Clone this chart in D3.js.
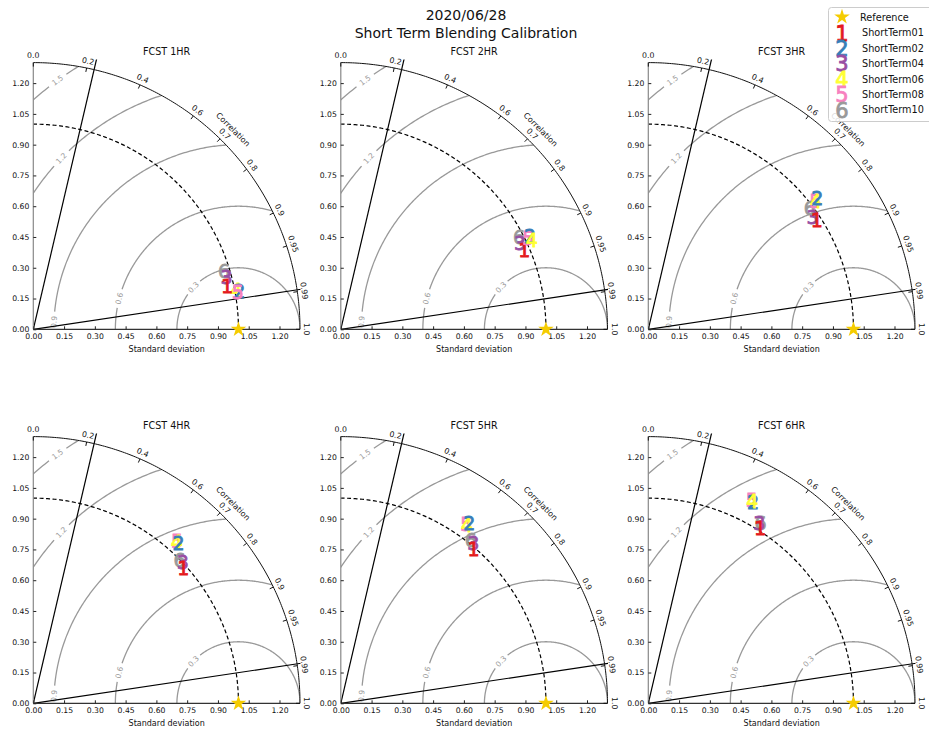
<!DOCTYPE html>
<html><head><meta charset="utf-8">
<script src="https://cdn.jsdelivr.net/npm/d3@7"></script>
<style>body{margin:0;background:#fff} text{font-family:"DejaVu Sans",sans-serif}</style>
</head><body><svg id="chart" width="929" height="733"></svg>
<script>
// ---------------- data ----------------
const figTitle = ["2020/06/28", "Short Term Blending Calibration"];
const panelTitles = ["FCST 1HR", "FCST 2HR", "FCST 3HR", "FCST 4HR", "FCST 5HR", "FCST 6HR"];
const seriesNames = ["ShortTerm01", "ShortTerm02", "ShortTerm04", "ShortTerm06", "ShortTerm08", "ShortTerm10"];
const seriesMarkers = ["1", "2", "3", "4", "5", "6"];
const stdTicks = [0, 0.15, 0.30, 0.45, 0.60, 0.75, 0.90, 1.05, 1.20];
const corrTicks = [0, 0.2, 0.4, 0.6, 0.7, 0.8, 0.9, 0.95, 0.99, 1.0];
const rmsLevels = [0.3, 0.6, 0.9, 1.2, 1.5];
const refStd = 1.0;
const stdMax = 1.3;
// per-series values, one entry per panel (FCST 1HR..6HR)
const std01  = [0.968, 0.973, 0.979, 0.984, 0.991, 1.012];
const corr01 = [0.976, 0.919, 0.839, 0.743, 0.653, 0.538];
const std02  = [1.022, 1.027, 1.043, 1.053, 1.079, 1.105];
const corr02 = [0.983, 0.898, 0.790, 0.672, 0.581, 0.462];
const std04  = [0.976, 0.969, 0.971, 1.003, 1.013, 1.031];
const corr04 = [0.965, 0.902, 0.825, 0.726, 0.638, 0.525];
const std06  = [1.008, 1.028, 1.028, 1.053, 1.064, 1.106];
const corr06 = [0.982, 0.906, 0.796, 0.664, 0.578, 0.458];
const std08  = [1.013, 1.016, 1.027, 1.056, 1.068, 1.110];
const corr08 = [0.984, 0.899, 0.793, 0.663, 0.573, 0.455];
const std10  = [0.971, 0.979, 0.984, 0.998, 1.018, 1.036];
const corr10 = [0.957, 0.888, 0.800, 0.714, 0.623, 0.528];
// black reference lines (correlation values of the two straight lines)
const guideCorr = [0.228, 0.989];

const seriesStd = [std01, std02, std04, std06, std08, std10];
const seriesCorr = [corr01, corr02, corr04, corr06, corr08, corr10];

// ---------------- styles / layout ----------------
const seriesColors = ["#e41a1c", "#377eb8", "#984ea3", "#ffff33", "#f781bf", "#999999"];
// stacking order of markers per panel (bottom -> top), series indices
const drawOrder = [
  [5, 3, 1, 4, 2, 0],
  [5, 2, 0, 4, 1, 3],
  [5, 4, 3, 1, 2, 0],
  [5, 4, 3, 1, 2, 0],
  [5, 4, 3, 1, 2, 0],
  [5, 2, 0, 4, 1, 3]
];
const rmsLabelAngles = [137, 165.5, 177.7, 136, 126];
const R = 266.7;
const col0 = 33.3, colStep = 307.5, row0 = 329.3, rowStep = 374;

const svg = d3.select("#chart");
svg.append("rect").attr("width", 929).attr("height", 733).attr("fill", "#fff");
const r = d3.scaleLinear().domain([0, stdMax]).range([0, R]);
const yS = d3.scaleLinear().domain([0, stdMax]).range([0, -R]);

const defs = svg.append("defs");
defs.append("clipPath").attr("id", "wedge").append("path")
  .attr("d", `M0,0L${R},0A${R},${R} 0 0 0 0,${-R}Z`);
defs.append("clipPath").attr("id", "box").append("rect")
  .attr("x", 0).attr("y", -R - 3).attr("width", R + 0.5).attr("height", R + 3);

const starPath = d3.symbol(d3.symbolStar).size(75)();
const deg = Math.PI / 180;

panelTitles.forEach((title, i) => {
  const c = i % 3, rw = Math.floor(i / 3);
  const g = svg.append("g").attr("transform", `translate(${col0 + c * colStep},${row0 + rw * rowStep})`);
  const P = (s, th) => [r(s * Math.cos(th)), yS(s * Math.sin(th))];

  // RMS contours
  const cg = g.append("g").attr("clip-path", "url(#wedge)");
  rmsLevels.forEach((lev, k) => {
    const phiL = rmsLabelAngles[k] * deg;
    const gap = 9 / r(lev);
    const a1 = [], a2 = [];
    for (let a = 0; a <= 180; a += 0.5) {
      const ph = a * deg;
      const p = [r(refStd + lev * Math.cos(ph)), yS(lev * Math.sin(ph))];
      if (ph < phiL - gap) a1.push(p); else if (ph > phiL + gap) a2.push(p);
    }
    [a1, a2].forEach(pts => {
      if (pts.length > 1) cg.append("path").attr("d", d3.line()(pts))
        .attr("fill", "none").attr("stroke", "#999").attr("stroke-width", 1.3);
    });
    const lp = [r(refStd + lev * Math.cos(phiL)), yS(lev * Math.sin(phiL))];
    cg.append("text").attr("transform", `translate(${lp[0]},${lp[1]}) rotate(${90 - rmsLabelAngles[k]})`)
      .attr("text-anchor", "middle").attr("dy", "0.35em")
      .attr("font-size", 7.5).attr("fill", "#999").text(lev.toFixed(1));
  });

  // reference std arc (dashed)
  const refPts = d3.range(0, 90.01, 0.5).map(a => P(refStd, a * deg));
  g.append("path").attr("d", d3.line()(refPts)).attr("fill", "none")
    .attr("stroke", "#000").attr("stroke-width", 1.2).attr("stroke-dasharray", "4,2.5");

  // black guide lines
  const lg = g.append("g").attr("clip-path", "url(#box)");
  guideCorr.forEach(cv => {
    const th = Math.acos(cv);
    const e = P(1.5, th);
    lg.append("line").attr("x1", 0).attr("y1", 0).attr("x2", e[0]).attr("y2", e[1])
      .attr("stroke", "#000").attr("stroke-width", 1.2);
  });

  // outer arc
  const outPts = d3.range(0, 90.01, 0.5).map(a => P(stdMax, a * deg));
  g.append("path").attr("d", d3.line()(outPts)).attr("fill", "none").attr("stroke", "#111").attr("stroke-width", 1);

  // spines
  g.append("line").attr("x1", 0).attr("y1", 0).attr("x2", 0).attr("y2", -R).attr("stroke", "#888").attr("stroke-width", 1.2);
  g.append("line").attr("x1", 0).attr("y1", 0).attr("x2", R).attr("y2", 0).attr("stroke", "#333").attr("stroke-width", 1.2);

  // axes
  const xa = g.append("g").call(d3.axisBottom(r).tickValues(stdTicks).tickFormat(d3.format(".2f")).tickSize(-3).tickPadding(4));
  const ya = g.append("g").call(d3.axisLeft(yS).tickValues(stdTicks).tickFormat(d3.format(".2f")).tickSize(-3).tickPadding(4));
  [xa, ya].forEach(a => {
    a.select(".domain").remove();
    a.attr("color", "#222");
    a.selectAll("text").attr("font-size", 7.7).attr("font-family", "DejaVu Sans").attr("fill", "#111");
  });

  // correlation ticks & labels
  corrTicks.forEach(cv => {
    const th = Math.acos(cv);
    const p1 = [R * Math.cos(th), -R * Math.sin(th)];
    const p0 = [(R - 4) * Math.cos(th), -(R - 4) * Math.sin(th)];
    g.append("line").attr("x1", p0[0]).attr("y1", p0[1]).attr("x2", p1[0]).attr("y2", p1[1]).attr("stroke", "#111");
    const lp = [(R + 7) * Math.cos(th), -(R + 7) * Math.sin(th)];
    const lab = cv === 0 ? "0.0" : cv === 1 ? "1.0" : String(cv);
    g.append("text").attr("transform", `translate(${lp[0]},${lp[1]}) rotate(${90 - th / deg})`)
      .attr("text-anchor", "middle").attr("dy", "0.35em").attr("font-size", 7.8).attr("fill", "#111").text(lab);
  });
  const cl = [(R + 16) * Math.cos(45 * deg), -(R + 16) * Math.sin(45 * deg)];
  g.append("text").attr("transform", `translate(${cl[0]},${cl[1]}) rotate(45)`)
    .attr("text-anchor", "middle").attr("dy", "0.35em").attr("font-size", 8).attr("fill", "#111").text("Correlation");

  // labels
  g.append("text").attr("x", R / 2).attr("y", 20).attr("text-anchor", "middle").attr("dy", "0.35em")
    .attr("font-size", 8).attr("fill", "#111").text("Standard deviation");
  g.append("text").attr("x", R / 2).attr("y", -R - 11).attr("text-anchor", "middle").attr("dy", "0.35em")
    .attr("font-size", 9.6).attr("fill", "#111").text(title);

  // reference star
  g.append("path").attr("d", starPath).attr("transform", `translate(${r(refStd)},0)`).attr("fill", "#f5cc00");

  // series markers
  drawOrder[i].forEach(s => {
    const th = Math.acos(seriesCorr[s][i]);
    const p = P(seriesStd[s][i], th);
    g.append("text").attr("x", p[0]).attr("y", p[1]).attr("dy", "0.36em").attr("text-anchor", "middle")
      .attr("font-size", 19).attr("fill", seriesColors[s]).attr("stroke", seriesColors[s]).attr("stroke-width", 0.8)
      .text(seriesMarkers[s]);
  });
});

// figure title
figTitle.forEach((t, k) => {
  svg.append("text").attr("x", 466).attr("y", 15 + k * 18).attr("dy", "0.35em").attr("text-anchor", "middle")
    .attr("font-size", 14).attr("fill", "#111").text(t);
});

// legend
const lgd = svg.append("g");
lgd.append("rect").attr("x", 828.5).attr("y", 7.5).attr("width", 110).attr("height", 114).attr("rx", 3)
  .attr("fill", "#fff").attr("fill-opacity", 0.85).attr("stroke", "#ccc");
lgd.append("path").attr("d", starPath).attr("transform", "translate(842,17)").attr("fill", "#f5cc00");
lgd.append("text").attr("x", 860).attr("y", 18).attr("dy", "0.35em").attr("font-size", 9.7).attr("fill", "#111").text("Reference");
seriesNames.forEach((nm, s) => {
  const y = 33 + s * 15.4;
  lgd.append("text").attr("x", 842).attr("y", y).attr("dy", "0.36em").attr("text-anchor", "middle")
    .attr("font-size", 21).attr("fill", seriesColors[s]).attr("stroke", seriesColors[s]).attr("stroke-width", 0.8)
    .text(seriesMarkers[s]);
  lgd.append("text").attr("x", 862).attr("y", y).attr("dy", "0.35em").attr("font-size", 9.7).attr("fill", "#111").text(nm);
});
</script></body></html>
